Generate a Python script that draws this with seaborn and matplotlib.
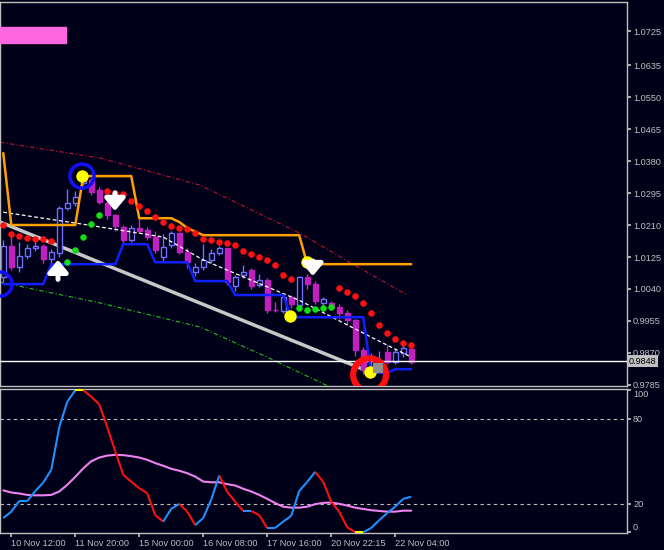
import numpy as np
import pandas as pd
import matplotlib
matplotlib.use("Agg")
import matplotlib.pyplot as plt
import seaborn as sns
from matplotlib.patches import Rectangle

sns.set_theme(style="dark")
plt.rcParams['font.family'] = ['Liberation Sans', 'DejaVu Sans']

BG = "#000018"

opens  = [1.0072,1.0154,1.0098,1.0127,1.0150,1.0154,1.0119,1.0135,1.0255,1.0268,1.0321,1.0329,1.0303,1.0268,1.0236,1.0204,1.0170,1.0202,1.0196,1.0178,
          1.0125,1.0157,1.0188,1.0138,1.0085,1.0098,1.0117,1.0135,1.0149,1.0048,1.0077,1.0090,1.0050,1.0064,0.9984,0.9981,1.0018,0.9997,1.0072,1.0053,
          1.0003,1.0003,0.9992,0.9976,0.9957,0.9878,0.9817,0.9840,0.9872,0.9846,0.9870,0.9880]
closes = [1.0154,1.0098,1.0127,1.0149,1.0154,1.0119,1.0138,1.0255,1.0268,1.0284,1.0337,1.0297,1.0271,1.0236,1.0207,1.0170,1.0202,1.0194,1.0178,1.0143,
          1.0151,1.0188,1.0138,1.0111,1.0098,1.0117,1.0135,1.0149,1.0058,1.0072,1.0085,1.0048,1.0064,0.9984,0.9983,1.0018,1.0000,1.0072,1.0053,1.0008,
          1.0013,0.9992,0.9976,0.9957,0.9878,0.9825,0.9833,0.9852,0.9846,0.9872,0.9883,0.9846]
highs  = [1.0170,1.0180,1.0165,1.0160,1.0165,1.0160,1.0145,1.0260,1.0307,1.0300,1.0345,1.0335,1.0310,1.0275,1.0240,1.0210,1.0210,1.0225,1.0205,1.0195,
          1.0185,1.0195,1.0192,1.0150,1.0110,1.0160,1.0145,1.0155,1.0150,1.0078,1.0105,1.0095,1.0080,1.0070,1.0005,1.0030,1.0025,1.0075,1.0080,1.0060,
          1.0020,1.0008,1.0000,0.9985,0.9960,0.9885,0.9870,0.9875,0.9890,0.9880,0.9890,0.9885]
lows   = [1.0058,1.0090,1.0085,1.0120,1.0140,1.0110,1.0100,1.0125,1.0250,1.0260,1.0315,1.0290,1.0265,1.0225,1.0195,1.0160,1.0165,1.0190,1.0170,1.0135,
          1.0115,1.0150,1.0132,1.0095,1.0075,1.0090,1.0110,1.0130,1.0050,1.0035,1.0070,1.0040,1.0045,0.9975,0.9978,0.9975,0.9990,0.9990,1.0040,1.0000,
          0.9995,0.9985,0.9960,0.9945,0.9862,0.9815,0.9810,0.9835,0.9840,0.9840,0.9860,0.9840]

orange_idx = [0,1,9,10,16,17,21,22,23,25,37,38,51]
orange_val = [1.0401,1.0210,1.0210,1.0340,1.0340,1.0228,1.0228,1.0218,1.0202,1.0183,1.0183,1.0106,1.0106]

blue_idx = [0,5,6,14,15,18,19,23,24,28,29,35,36,45,46,48,49,51]
blue_val = [1.0053,1.0053,1.0106,1.0106,1.0159,1.0159,1.0111,1.0111,1.0061,1.0061,1.0024,1.0024,0.9965,0.9965,0.9817,0.9817,0.9827,0.9827]

red_idx = [0,1,2,3,4,5,6,13,14,15,16,17,18,19,20,21,22,23,24,25,26,27,28,29,30,31,32,33,34,35,36,42,43,44,45,46,47,48,49,50,51]
red_val = [1.0210,1.0186,1.0181,1.0175,1.0172,1.0172,1.0167,1.0300,1.0295,1.0292,1.0273,1.0260,1.0247,1.0231,1.0218,1.0207,1.0202,1.0199,1.0188,1.0172,
           1.0170,1.0164,1.0162,1.0157,1.0141,1.0133,1.0125,1.0117,1.0104,1.0077,1.0067,1.0042,1.0032,1.0021,1.0002,0.9976,0.9944,0.9923,0.9907,0.9896,0.9891]
green_idx = [8,9,10,11,12,37,38,39,40,41]
green_val = [1.0111,1.0143,1.0178,1.0212,1.0236,0.9989,0.9984,0.9987,0.9989,0.9992]

ma_idx = [0,10,20,25,37,46,51]
ma_val = [1.0244,1.0212,1.0178,1.0117,1.0010,0.9912,0.9859]

upper_idx = [-0.4,12.1,24.6,37.1,43.3,50.5]
upper_val = [1.0430,1.0388,1.0316,1.0188,1.0111,1.0024]
lower_idx = [-0.4,12.1,24.6,33.0,40.8]
lower_val = [1.0058,1.0003,0.9939,0.9859,0.9780]

trend_idx = [-0.41,45.2]
trend_val = [1.0218,0.9825]

yellow_idx = [9.84,35.8,37.96,45.8]
yellow_val = [1.0340,0.9968,1.0111,0.9820]

osc = [10,14.5,22,22,29,35,44,74,92,100,100,95.5,90,74,57,40.5,35.5,31,27.5,12,7.5,16.5,20,14.5,5,10,23,40,28.5,21.5,
       15,15,12,3,3,7.5,11.5,29,35.5,42.5,35.5,21.5,14.5,3.5,0,0,3,8.5,13.5,18,23.5,25]
sig = [29.5,28,27.3,26.3,26,26,26.3,28.7,33.4,39,45,50,52.6,54,54.5,54.3,53.6,52.6,51,48.7,46.8,44.7,43.3,41.6,39.2,35.7,35.2,35.2,33.9,32.9,
       30.6,28.7,26.3,23.5,20.5,18,17.3,17.3,18,19.8,20.7,20.9,20,18.8,17.3,16.4,15.5,15,14.5,14.5,15.2,15.2]

price_ticks = [1.0725,1.0635,1.0550,1.0465,1.0380,1.0295,1.0210,1.0125,1.0040,0.9955,0.9870,0.9785]
osc_ticks = [100,80,20,0]
time_idx = [1,9,17,25,33,41,49]
time_labels = ["10 Nov 12:00","11 Nov 20:00","15 Nov 00:00","16 Nov 08:00","17 Nov 16:00","20 Nov 22:15","22 Nov 04:00"]
last_price = 0.9848

FS = 6.6
fig = plt.figure(figsize=(6.64,5.5), dpi=100, facecolor=BG)
ax = fig.add_axes([0.0, 0.298, 0.944, 0.698], facecolor=BG)
ax2 = fig.add_axes([0.0, 0.031, 0.944, 0.262], facecolor=BG)
XL = (-0.41, 77.96)
for a in (ax, ax2):
    a.set_xlim(*XL)
    for s in a.spines.values():
        s.set_color("#c0c0c0"); s.set_linewidth(1)
    a.grid(False)
    a.yaxis.tick_right()
    a.tick_params(axis='y', colors="#c0c0c0", labelsize=FS, length=3, pad=1.5, right=True, left=False)
ax.set_ylim(0.9782, 1.0802)
ax2.set_ylim(-0.5, 101)

idx = np.arange(len(opens))
o = np.array(opens); c = np.array(closes)
hi = np.array(highs); lo = np.array(lows)
bull = c >= o
ax.vlines(idx[bull], lo[bull], hi[bull], color="#7070ff", lw=1, zorder=2)
ax.vlines(idx[~bull], lo[~bull], hi[~bull], color="#c030c0", lw=1, zorder=2)
ax.bar(idx[bull], (c-o)[bull], bottom=o[bull], width=0.6, facecolor=BG, edgecolor="#7070ff", lw=1, zorder=3)
ax.bar(idx[~bull], (o-c)[~bull], bottom=c[~bull], width=0.6, facecolor="#c020c0", edgecolor="#c020c0", lw=1, zorder=3)

sns.lineplot(x=upper_idx, y=upper_val, ax=ax, color="#c01030", lw=0.8, linestyle=(0,(4,2,1,2)), sort=False, zorder=1)
sns.lineplot(x=lower_idx, y=lower_val, ax=ax, color="#20c020", lw=0.8, linestyle=(0,(4,2,1,2)), sort=False, zorder=1)
sns.lineplot(x=trend_idx, y=trend_val, ax=ax, color="#c8c8c8", lw=2.5, sort=False, zorder=2)
sns.lineplot(x=ma_idx, y=ma_val, ax=ax, color="white", lw=0.9, linestyle=(0,(3,2)), sort=False, zorder=4)
sns.lineplot(x=orange_idx, y=orange_val, ax=ax, color="#ffa000", lw=1.8, sort=False, zorder=4)
sns.lineplot(x=blue_idx, y=blue_val, ax=ax, color="#1020ff", lw=1.8, sort=False, zorder=4)
sns.scatterplot(x=red_idx, y=red_val, ax=ax, color="#ff1010", s=22, linewidth=0, zorder=5)
sns.scatterplot(x=green_idx, y=green_val, ax=ax, color="#10e010", s=22, linewidth=0, zorder=5)
ax.axhline(last_price, color="white", lw=1, zorder=3)

sns.scatterplot(x=[yellow_idx[0], -0.41], y=[yellow_val[0], blue_val[0]], ax=ax, s=300, facecolor="none", edgecolor="#1010ff", linewidth=2.5, zorder=6)
sns.scatterplot(x=[yellow_idx[3]], y=[yellow_val[3]-0.0008], ax=ax, s=560, facecolor="none", edgecolor="#ff1010", linewidth=4.5, zorder=6)
sns.scatterplot(x=yellow_idx, y=yellow_val, ax=ax, color="#ffff00", s=80, linewidth=0, zorder=7)
sns.scatterplot(x=[46.8], y=[0.9830], ax=ax, color="#909090", marker="s", s=45, linewidth=0, zorder=7)

for tail, tip in [((6.84,1.0058),(6.84,1.0125)), ((13.96,1.0303),(13.96,1.0240)), ((38.7,1.0122),(38.7,1.0067))]:
    ax.annotate("", xy=tip, xytext=tail,
                arrowprops=dict(arrowstyle="-|>,head_width=0.5,head_length=0.6", lw=3.5, color="white", mutation_scale=12), zorder=8)

ax.set_yticks(price_ticks)
ax.set_yticklabels([f"{t:.4f}" for t in price_ticks])
ax.text(1.003, last_price, f"{last_price:.4f}", transform=ax.get_yaxis_transform(), color="black", fontsize=FS,
        va="center", ha="left", bbox=dict(boxstyle="square,pad=0.15", fc="#c0c0c0", ec="none"), zorder=10, clip_on=False)
fig.patches.append(Rectangle((0, 1-43/550), 66/664, 16/550, transform=fig.transFigure, color="#ff66e0", zorder=10))
ax.set_xticks([])
ax.set_xlabel(""); ax.set_ylabel("")

# oscillator
for i in range(len(osc)-1):
    if osc[i] == osc[i+1] and osc[i] in (0, 100):
        col = "#ffff00"
    elif osc[i+1] >= osc[i]:
        col = "#2090ff"
    else:
        col = "#ff1010"
    ax2.plot(idx[i:i+2], osc[i:i+2], color=col, lw=1.5, solid_capstyle="butt", zorder=3)
sns.lineplot(x=idx, y=sig, ax=ax2, color="#ee82ee", lw=1.5, zorder=2)
for lv in (80, 20):
    ax2.axhline(lv, color="#c0c0c0", lw=0.8, linestyle=(0,(3,3)), zorder=1)
ax2.set_yticks(osc_ticks)
ax2.set_yticklabels([str(t) for t in osc_ticks])
ax2.get_yticklabels()[0].set_va("top")
ax2.get_yticklabels()[-1].set_va("bottom")
ax2.set_xticks(time_idx)
ax2.set_xticklabels(time_labels, ha="left")
ax2.tick_params(axis='x', colors="#c0c0c0", labelsize=FS, length=3, pad=1.5, bottom=True)
ax2.set_xlabel(""); ax2.set_ylabel("")

fig.savefig("out.png", dpi=100, facecolor=BG)
